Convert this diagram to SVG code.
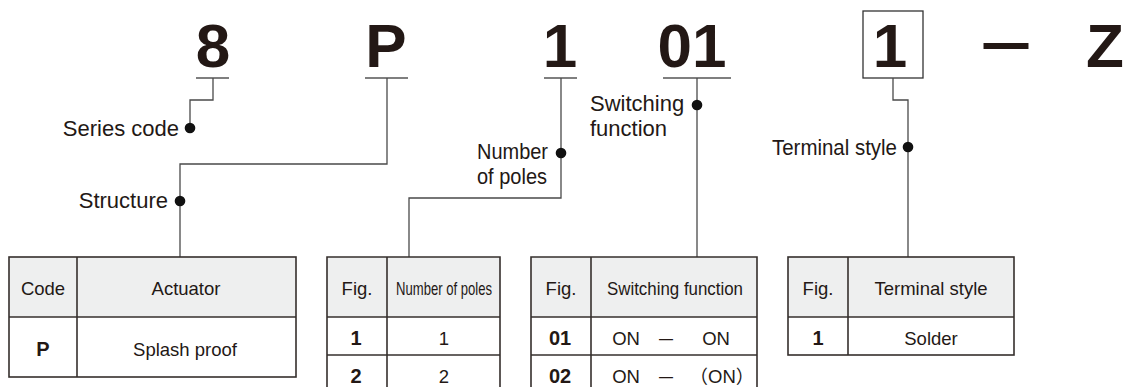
<svg xmlns="http://www.w3.org/2000/svg" width="1127" height="387" viewBox="0 0 1127 387">
<style>
  .big{font-family:"Liberation Sans",Arial,sans-serif;font-weight:bold;font-size:62px;fill:#231815}
  .lbl{font-family:"Liberation Sans",Arial,sans-serif;font-size:22px;fill:#231815}
  .tt{font-family:"Liberation Sans","Noto Sans CJK JP",Arial,sans-serif;font-size:18.5px;fill:#231815;text-anchor:middle}
  .tb{font-family:"Liberation Sans",Arial,sans-serif;font-size:20px;font-weight:bold;fill:#231815;text-anchor:middle}
  .ul{stroke:#555;stroke-width:1.3;fill:none}
  .con{stroke:#4a4a4a;stroke-width:1.3;fill:none}
  .dot{fill:#111}
  .hdr{fill:#eeefef}
  .grid{stroke:#352f2c;stroke-width:1.6;fill:none}
</style>
<rect width="1127" height="387" fill="#fff"/>

<g id="code-8">
  <text class="big" x="213" y="67" text-anchor="middle">8</text>
  <line class="ul" x1="196" y1="78" x2="229" y2="78"/>
</g>
<g id="code-P">
  <text class="big" x="386" y="67" text-anchor="middle">P</text>
  <line class="ul" x1="365" y1="78" x2="408" y2="78"/>
</g>
<g id="code-1">
  <text class="big" x="560" y="67" text-anchor="middle">1</text>
  <line class="ul" x1="544" y1="78" x2="577" y2="78"/>
</g>
<g id="code-01">
  <text class="big" x="692" y="67" text-anchor="middle">01</text>
  <line class="ul" x1="663" y1="78" x2="731" y2="78"/>
</g>
<g id="code-terminal">
  <rect x="863" y="11" width="60" height="67" fill="none" stroke="#333" stroke-width="1.3"/>
  <text class="big" x="890" y="67" text-anchor="middle">1</text>
</g>
<g id="code-dash">
  <text class="big" x="1006" y="62" text-anchor="middle" textLength="45" lengthAdjust="spacingAndGlyphs">—</text>
</g>
<g id="code-Z">
  <text class="big" x="1105" y="67" text-anchor="middle">Z</text>
</g>

<g id="connectors">
  <polyline class="con" points="213,78 213,100 190,100 190,128"/>
  <polyline class="con" points="387,78 387,164 180,164 180,257"/>
  <polyline class="con" points="561,78 561,198 409,198 409,257"/>
  <polyline class="con" points="697,78 697,257"/>
  <polyline class="con" points="893,78 893,100 908,100 908,257"/>
  <circle class="dot" cx="190" cy="128" r="5.3"/>
  <circle class="dot" cx="180" cy="201" r="5.3"/>
  <circle class="dot" cx="561" cy="153" r="5.3"/>
  <circle class="dot" cx="697" cy="105" r="5.3"/>
  <circle class="dot" cx="908" cy="147" r="5.3"/>
</g>

<g id="label-series">
  <text class="lbl" x="179" y="136" text-anchor="end">Series code</text>
</g>
<g id="label-structure">
  <text class="lbl" x="168" y="208" text-anchor="end">Structure</text>
</g>
<g id="label-poles">
  <text class="lbl" x="477" y="159" textLength="71" lengthAdjust="spacingAndGlyphs">Number</text>
  <text class="lbl" x="477" y="184" textLength="70" lengthAdjust="spacingAndGlyphs">of poles</text>
</g>
<g id="label-switching">
  <text class="lbl" x="590" y="111">Switching</text>
  <text class="lbl" x="590" y="136">function</text>
</g>
<g id="label-terminal">
  <text class="lbl" x="772" y="155" textLength="125" lengthAdjust="spacingAndGlyphs">Terminal style</text>
</g>

<g id="table-actuator">
  <rect class="hdr" x="9" y="257" width="287" height="60"/>
  <rect class="grid" x="9" y="257" width="287" height="120"/>
  <line class="grid" x1="77" y1="257" x2="77" y2="377"/>
  <line class="grid" x1="9" y1="317" x2="296" y2="317"/>
  <text class="tt" x="43" y="295">Code</text>
  <text class="tt" x="186" y="295">Actuator</text>
  <text class="tb" x="43" y="356" font-size="19">P</text>
  <text class="tt" x="185" y="356">Splash proof</text>
</g>

<g id="table-poles">
  <rect class="hdr" x="327" y="257" width="173" height="60"/>
  <polyline class="grid" points="327,400 327,257 500,257 500,400"/>
  <line class="grid" x1="387" y1="257" x2="387" y2="400"/>
  <line class="grid" x1="327" y1="317" x2="500" y2="317"/>
  <line class="grid" x1="327" y1="355" x2="500" y2="355"/>
  <text class="tt" x="357" y="295">Fig.</text>
  <text class="tt" x="444" y="295" textLength="96" lengthAdjust="spacingAndGlyphs">Number of poles</text>
  <text class="tb" x="356" y="345">1</text>
  <text class="tt" x="444" y="345">1</text>
  <text class="tb" x="356" y="383">2</text>
  <text class="tt" x="444" y="383">2</text>
</g>

<g id="table-switching">
  <rect class="hdr" x="531" y="257" width="226" height="60"/>
  <polyline class="grid" points="531,400 531,257 757,257 757,400"/>
  <line class="grid" x1="591" y1="257" x2="591" y2="400"/>
  <line class="grid" x1="531" y1="317" x2="757" y2="317"/>
  <line class="grid" x1="531" y1="355" x2="757" y2="355"/>
  <text class="tt" x="561" y="295">Fig.</text>
  <text class="tt" x="675" y="295" textLength="136" lengthAdjust="spacingAndGlyphs">Switching function</text>
  <text class="tb" x="560" y="345">01</text>
  <text class="tt" x="626" y="345">ON</text>
  <text class="tt" x="666" y="344" textLength="14" lengthAdjust="spacingAndGlyphs">—</text>
  <text class="tt" x="716" y="345">ON</text>
  <text class="tb" x="560" y="383">02</text>
  <text class="tt" x="626" y="383">ON</text>
  <text class="tt" x="666" y="382" textLength="14" lengthAdjust="spacingAndGlyphs">—</text>
  <text class="tt" x="722" y="383">（ON）</text>
</g>

<g id="table-terminal">
  <rect class="hdr" x="788" y="257" width="226" height="60"/>
  <rect class="grid" x="788" y="257" width="226" height="98"/>
  <line class="grid" x1="848" y1="257" x2="848" y2="355"/>
  <line class="grid" x1="788" y1="317" x2="1014" y2="317"/>
  <text class="tt" x="818" y="295">Fig.</text>
  <text class="tt" x="931" y="295">Terminal style</text>
  <text class="tb" x="818" y="345">1</text>
  <text class="tt" x="931" y="345">Solder</text>
</g>
</svg>
